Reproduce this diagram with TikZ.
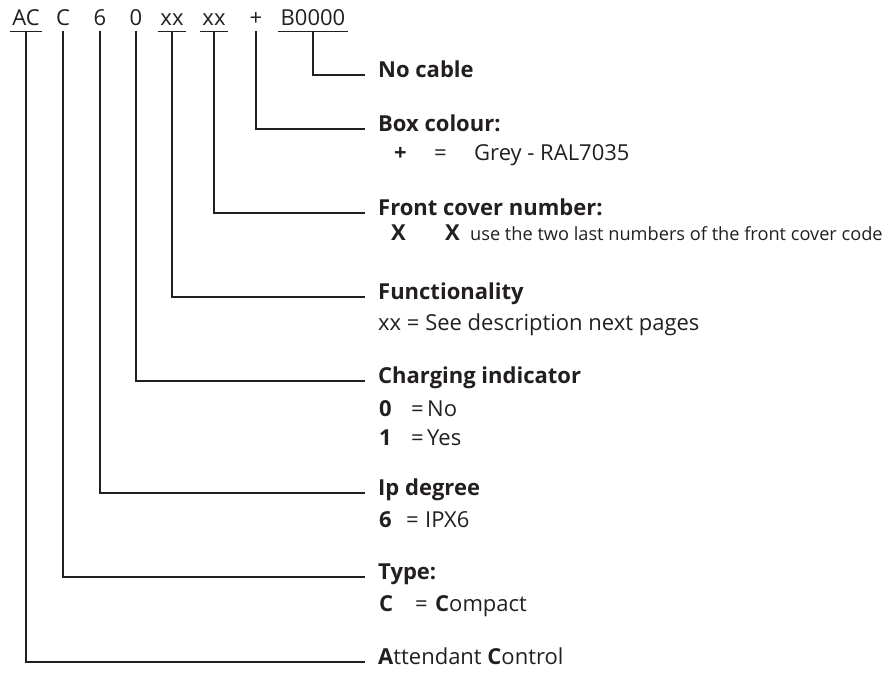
\documentclass[tikz,border=0pt]{standalone}
\usepackage{fontspec}
\setmainfont{Open Sans}
\usepackage{tikz}
\usetikzlibrary{positioning,calc}
\definecolor{Ink}{HTML}{231F20}
\tikzset{
  every node/.append style={text=Ink},
  code/.style={font=\fontsize{22}{26}\selectfont, anchor=base,
               inner xsep=2.5pt, inner ysep=6pt, text depth=0pt},
  head/.style={font=\fontsize{22}{26}\selectfont\bfseries, anchor=mid west, inner sep=0pt},
  headplain/.style={head, font=\fontsize{22}{26}\selectfont},
  detail/.style={font=\fontsize{22}{26}\selectfont, anchor=base west, inner sep=0pt},
  note/.style={font=\fontsize{18.2}{22}\selectfont, anchor=base west, inner sep=0pt},
  lead/.style={draw=Ink, line width=1.1pt},
  uline/.style={draw=Ink, line width=1.1pt},
}

\begin{document}
\begin{tikzpicture}[x=1pt,y=-1pt]
  \useasboundingbox (0,0) rectangle (894,675);

  % the code
  \node[code] (cAC)    at (26,25)  {AC};
  \node[code] (cType)  at (63,25)  {C};
  \node[code] (cIp)    at (100,25) {6};
  \node[code] (cChg)   at (136,25) {0};
  \node[code] (cFun)   at (172,25) {xx};
  \node[code] (cFront) at (214,25) {xx};
  \node[code] (cBox)   at (256,25) {+};
  \node[code] (cCab)   at (313,25) {B0000};
  \foreach \n in {cAC,cFun,cFront,cCab}
    \draw[uline] (\n.south west) -- (\n.south east);

  % headings
  \node[head] (hCab)   at (378,75)  {No cable};
  \node[head] (hBox)   at (378,129) {Box colour:};
  \node[head] (hFront) at (378,213) {Front cover number:};
  \node[head] (hFun)   at (378,297) {Functionality};
  \node[head] (hChg)   at (378,381) {Charging indicator};
  \node[head] (hIp)    at (378,493) {Ip degree};
  \node[head] (hType)  at (378,577) {Type:};
  \node[headplain] (hAC) at (378,662) {\textbf{A}ttendant \textbf{C}ontrol};

  % details
  \node[detail] (dBox) at (394,160)
    {\makebox[40pt][l]{\textbf{+}}\makebox[40pt][l]{=}Grey - RAL7035};
  \node[detail] (dFront) at (391,240)
    {\makebox[54pt][l]{\textbf{X}}\textbf{X}};
  \node[note] (nFront) at (470,240) {use the two last numbers of the front cover code};
  \node[detail] (dFun) at (378,330) {xx = See description next pages};
  \node[detail] (dChgA) at (379,416) {\makebox[32pt][l]{\textbf{0}}\makebox[16pt][l]{=}No};
  \node[detail] (dChgB) at (379,445) {\makebox[32pt][l]{\textbf{1}}\makebox[16pt][l]{=}Yes};
  \node[detail] (dIp) at (379,527) {\makebox[27pt][l]{\textbf{6}}\makebox[19pt][l]{=}IPX6};
  \node[detail] (dType) at (379,611) {\makebox[36pt][l]{\textbf{C}}\makebox[20pt][l]{=}\textbf{C}ompact};

  % leaders
  \foreach \c/\h in {cAC/hAC,cType/hType,cIp/hIp,cChg/hChg,cFun/hFun,cFront/hFront,cBox/hBox,cCab/hCab}
    \draw[lead] (\c.south) |- ([xshift=-13pt]\h.mid west);
\end{tikzpicture}
\end{document}
